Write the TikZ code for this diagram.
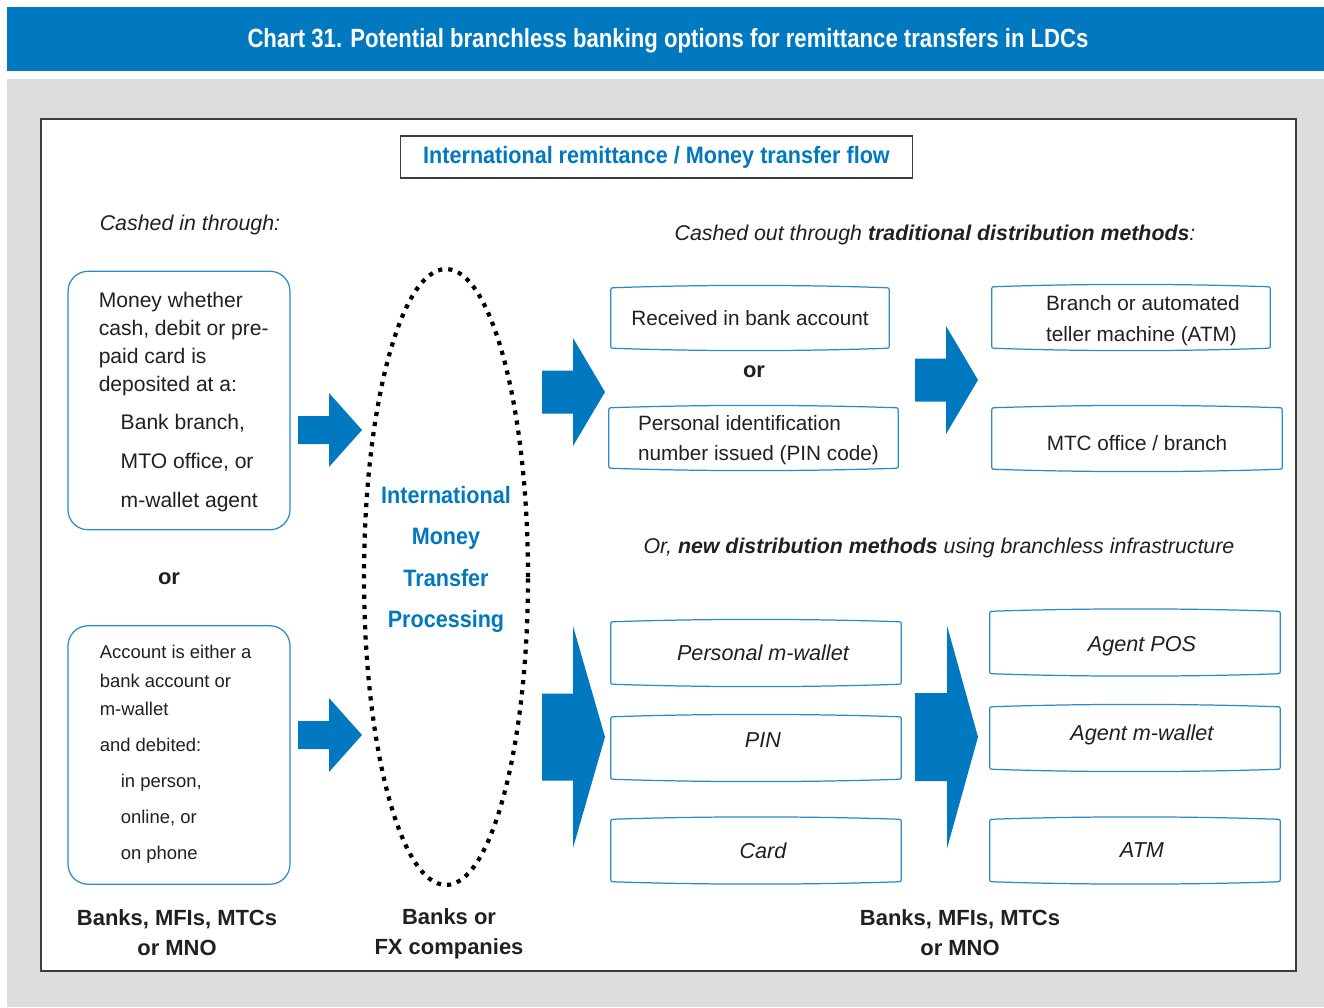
\documentclass[tikz,border=0pt]{standalone}
\usepackage{fontspec}
\setmainfont{Liberation Sans}
\newfontfamily\headfont[FakeStretch=0.84]{Liberation Sans}
\newfontfamily\condfont[FakeStretch=0.91]{Liberation Sans}
\usetikzlibrary{calc, shapes.geometric}

\definecolor{unblue}{HTML}{0079C1}
\definecolor{boxblue}{HTML}{2B8ACB}
\definecolor{panelgray}{HTML}{DCDDDF}
\definecolor{inkgray}{HTML}{231F20}
\definecolor{framegray}{HTML}{3C3C3C}

% bowed outline round a finished node
\newcommand{\bowframe}[1]{%
  \draw[boxline]
    ($(#1.north west)+(0,5)$) .. controls (#1.north west) .. ($(#1.north west)+(5,0)$)
    .. controls ($(#1.north west)!0.33!(#1.north east)+(0,-3)$) and ($(#1.north west)!0.67!(#1.north east)+(0,-3)$) .. ($(#1.north east)+(-5,0)$)
    .. controls (#1.north east) .. ($(#1.north east)+(0,5)$)
    -- ($(#1.south east)+(0,-5)$)
    .. controls (#1.south east) .. ($(#1.south east)+(-5,0)$)
    .. controls ($(#1.south west)!0.67!(#1.south east)+(0,3)$) and ($(#1.south west)!0.33!(#1.south east)+(0,3)$) .. ($(#1.south west)+(5,0)$)
    .. controls (#1.south west) .. ($(#1.south west)+(0,-5)$)
    -- cycle;}

\tikzset{
  boxline/.style={draw=boxblue, line width=0.7pt},
  outbox/.style={minimum width=#1, minimum height=1.22cm, inner sep=0pt, align=center,
    font=\fontsize{11.8}{17.5}\selectfont, text=inkgray},
  boxtext/.style={anchor=west, inner sep=0pt, align=left, font=\fontsize{11.8}{17.3}\selectfont, text=inkgray},
  newbox/.style={outbox=5.8cm, minimum height=1.24cm, font=\fontsize{12.3}{15}\selectfont\itshape},
  inbox/.style={boxline, rounded corners=0.4cm, minimum width=4.44cm, minimum height=5.17cm},
  sourcetext/.style={anchor=north west, inner sep=0pt, align=left, text=inkgray},
  orlabel/.style={font=\fontsize{12.5}{15}\selectfont\bfseries, text=inkgray},
  who/.style={align=center, font=\fontsize{12.5}{17}\selectfont\bfseries, text=inkgray},
  blueword/.style={text=unblue, font=\condfont\fontsize{13.5}{16}\selectfont\bfseries},
  caption/.style={font=\fontsize{12.15}{15}\selectfont\itshape, text=inkgray},
  pics/fatarrow/.style n args={4}{code={
    \fill[unblue] (0,-#3) -- (#1,-#3) -- (#1,-#4) -- ({#1+#2},0) -- (#1,#4) -- (#1,#3) -- (0,#3) -- cycle;}}
}

\begin{document}
\begin{tikzpicture}[x=0.02cm, y=-0.02cm]
  \useasboundingbox (0,0) rectangle (1324,1007);
  % panel and heading
  \fill[unblue] (7,7) rectangle (1324,71);
  \fill[panelgray] (7,79) rectangle (1324,1007);
  \draw[framegray, fill=white, line width=0.8pt] (41,119) rectangle (1296,971);
  \node[text=white, font=\headfont\fontsize{15}{18}\selectfont\bfseries] (chart) at (668,41) {Chart 31. Potential branchless banking options for remittance transfers in LDCs};
  \node[draw=framegray, line width=0.6pt, minimum width=10.26cm, minimum height=0.84cm, blueword] (flow) at (656.5,157) {International remittance / Money transfer flow};

  % cashed in
  \node[caption] (cashin) at (190,225) {Cashed in through:};
  \node[inbox] (deposit) at (179,400.5) {};
  \node[sourcetext, font=\fontsize{12}{15.9}\selectfont] (deposittext) at ($(deposit.north west)+(31,21)$) {Money whether\\cash, debit or pre-\\paid card is\\deposited at a:\\[6.2pt]\hspace*{12.5pt}Bank branch,\\[6.2pt]\hspace*{12.5pt}MTO office, or\\[6.2pt]\hspace*{12.5pt}m-wallet agent};
  \node[orlabel] (orleft) at (169,579) {or};
  \node[inbox] (account) at (179,755) {};
  \node[sourcetext, font=\fontsize{10.5}{16.2}\selectfont] (accounttext) at ($(account.north west)+(32,20)$) {Account is either a\\bank account or\\m-wallet\\[4.2pt]and debited:\\[4.2pt]\hspace*{12pt}in person,\\[4.2pt]\hspace*{12pt}online, or\\[4.2pt]\hspace*{12pt}on phone};

  % processing
  \node[ellipse, draw=black, line width=2.4pt, dash pattern=on 2.4pt off 3.4pt, minimum width=3.28cm, minimum height=12.32cm] (proc) at (446,577) {};
  \node[blueword, align=center, font=\condfont\fontsize{13.5}{23.6}\selectfont\bfseries] (proctext) at (446,559.5) {International\\Money\\Transfer\\Processing};

  % cashed out, traditional
  \node[caption] (cashout) at (935,235) {Cashed out through \textbf{traditional distribution methods}:};
  \node[outbox=5.56cm, minimum height=1.2cm] (recv) at (750,318) {Received in bank account};
  \node[orlabel] (ormid) at (754,372) {or};
  \node[outbox=5.78cm, minimum height=1.2cm] (pincode) at (753.5,438) {};
  \node[boxtext] (pincodetext) at ($(pincode.west)+(29,2)$) {Personal identification\\number issued (PIN code)};
  \node[outbox=5.56cm] (branch) at (1131,317.5) {};
  \node[boxtext] (branchtext) at ($(branch.west)+(54,3)$) {Branch or automated\\teller machine (ATM)};
  \node[outbox=5.8cm, text height=0.5cm] (mtc) at (1137,438.5) {MTC office / branch};

  % cashed out, branchless
  \node[caption] (cashnew) at (939,548) {Or, \textbf{new distribution methods} using branchless infrastructure};
  \foreach \name/\y/\txt/\fix in {pmwallet/653/Personal m-wallet/{}, pinnew/748/PIN/{text depth=0.32cm}, card/850.5/Card/{}}
    \node[newbox, style/.expanded=\fix] (\name) at (756,\y) {\hspace*{7.9pt}\txt};
  \foreach \name/\y/\txt/\fix in {agentpos/642.5/Agent POS/{text height=0.46cm}, agentwallet/738/Agent m-wallet/{text depth=0.21cm}, atm/850.5/ATM/{}}
    \node[newbox, style/.expanded=\fix] (\name) at (1135,\y) {\hspace*{7.9pt}\txt};
  \foreach \b in {recv,pincode,branch,mtc,pmwallet,pinnew,card,agentpos,agentwallet,atm}
    \bowframe{\b};

  % block arrows
  \pic (depositarrow) at (298,430) {fatarrow={31}{33}{14}{37}};
  \pic (accountarrow) at (298,735) {fatarrow={31}{33}{14}{37}};
  \pic (tradarrow) at (542,392) {fatarrow={31}{32}{21.5}{54}};
  \pic (tradarrowb) at (915,380) {fatarrow={31}{32}{21.5}{54}};
  \pic (newarrow) at (542,737) {fatarrow={31}{32}{43.5}{111}};
  \pic (newarrowb) at (915,737) {fatarrow={32}{31}{44}{111.5}};

  % who does it
  \node[who] (whoin) at (177,933) {Banks, MFIs, MTCs\\or MNO};
  \node[who] (whoproc) at (449,934) {Banks or\\FX companies};
  \node[who] (whoout) at (960,933) {Banks, MFIs, MTCs\\or MNO};
\end{tikzpicture}
\end{document}
